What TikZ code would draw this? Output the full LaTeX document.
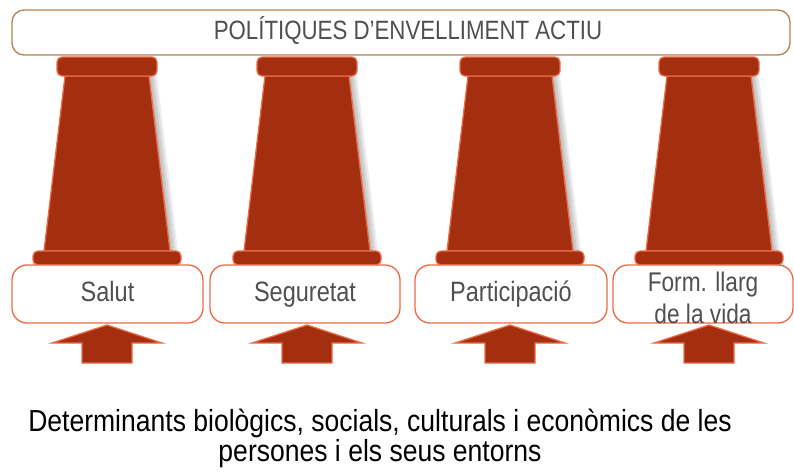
\documentclass[tikz,border=0pt]{standalone}
\usepackage{fontspec}
\setmainfont{Liberation Sans}[FakeStretch=0.85]
\newfontfamily\titlefont{Liberation Sans}[FakeStretch=0.84]
\newfontfamily\labelfont{Liberation Sans}[FakeStretch=0.84]
\newfontfamily\detfont{Liberation Sans}[FakeStretch=0.87]
\definecolor{colred}{RGB}{164,46,16}
\definecolor{colline}{RGB}{236,106,70}
\definecolor{barline}{RGB}{181,131,80}
\definecolor{txtgray}{RGB}{80,80,80}
\tikzset{
  colpart/.style={fill=colred, draw=colline, line width=1.3pt},
  capbox/.style={colpart, rounded corners=5pt},
  labelbox/.style={draw=colline, line width=1.3pt, fill=white, rounded corners=15pt,
     minimum height=58pt, inner sep=0pt, text=txtgray, align=center,
     font=\labelfont\fontsize{28}{32}\selectfont},
  onelinebox/.style={labelbox, text height=20pt, text depth=6pt},
  shadowpart/.style={fill=black, opacity=0.07},
}
\begin{document}
\begin{tikzpicture}[x=1pt,y=-1pt]
\useasboundingbox (0,0) rectangle (794,471);
% top bar
\node[draw=barline, line width=1.3pt, fill=white, rounded corners=12pt,
      minimum width=778pt, minimum height=45pt, inner sep=0pt] (bar) at (401,32.5) {};
\node[text height=19pt, text depth=5pt, inner sep=0pt,
      text=txtgray, font=\titlefont\fontsize{26.5}{30}\selectfont] (title) at (408,32.5) {POLÍTIQUES D’ENVELLIMENT ACTIU};
% columns
\foreach \c [count=\i] in {107,307,510,709}{
  % shadow
  \foreach \d in {2,4,6,8}{
    \fill[shadowpart] (\c-42+\d,76) -- (\c+42+\d,76) -- (\c+63+\d,251) -- (\c-63+\d,251) -- cycle;
  }
  \draw[colpart] (\c-42,76) -- (\c+42,76) -- (\c+63,251) -- (\c-63,251) -- cycle;
  \draw[capbox] (\c-50,57) rectangle (\c+50,76);
  \draw[capbox] (\c-74,251) rectangle (\c+74,265);
  % arrow
  \draw[colpart, line join=miter] (\c,325) -- (\c+55,343) -- (\c+25,343) -- (\c+25,363)
     -- (\c-25,363) -- (\c-25,343) -- (\c-55,343) -- cycle;
}
% label boxes
\node[onelinebox, minimum width=191pt] (b1) at (107.5,294) {Salut};
\node[onelinebox, minimum width=190pt] (b2) at (305,294) {Seguretat};
\node[onelinebox, minimum width=192pt] (b3) at (511,294) {Participació};
\node[labelbox, minimum width=180pt] (b4) at (703,294) {};
\node[align=center, inner sep=0pt, text=txtgray, font=\labelfont\fontsize{27}{32}\selectfont] (b4t) at (703,297.5) {Form. llarg\\de la vida};
% bottom text
\node[inner sep=0pt, font=\detfont\fontsize{30.5}{33}\selectfont, text=black] (det1) at (380,423)
  {Determinants biològics, socials, culturals i econòmics de les};
\node[inner sep=0pt, font=\detfont\fontsize{30.5}{33}\selectfont, text=black] (det2) at (380,454)
  {persones i els seus entorns};
\end{tikzpicture}
\end{document}
